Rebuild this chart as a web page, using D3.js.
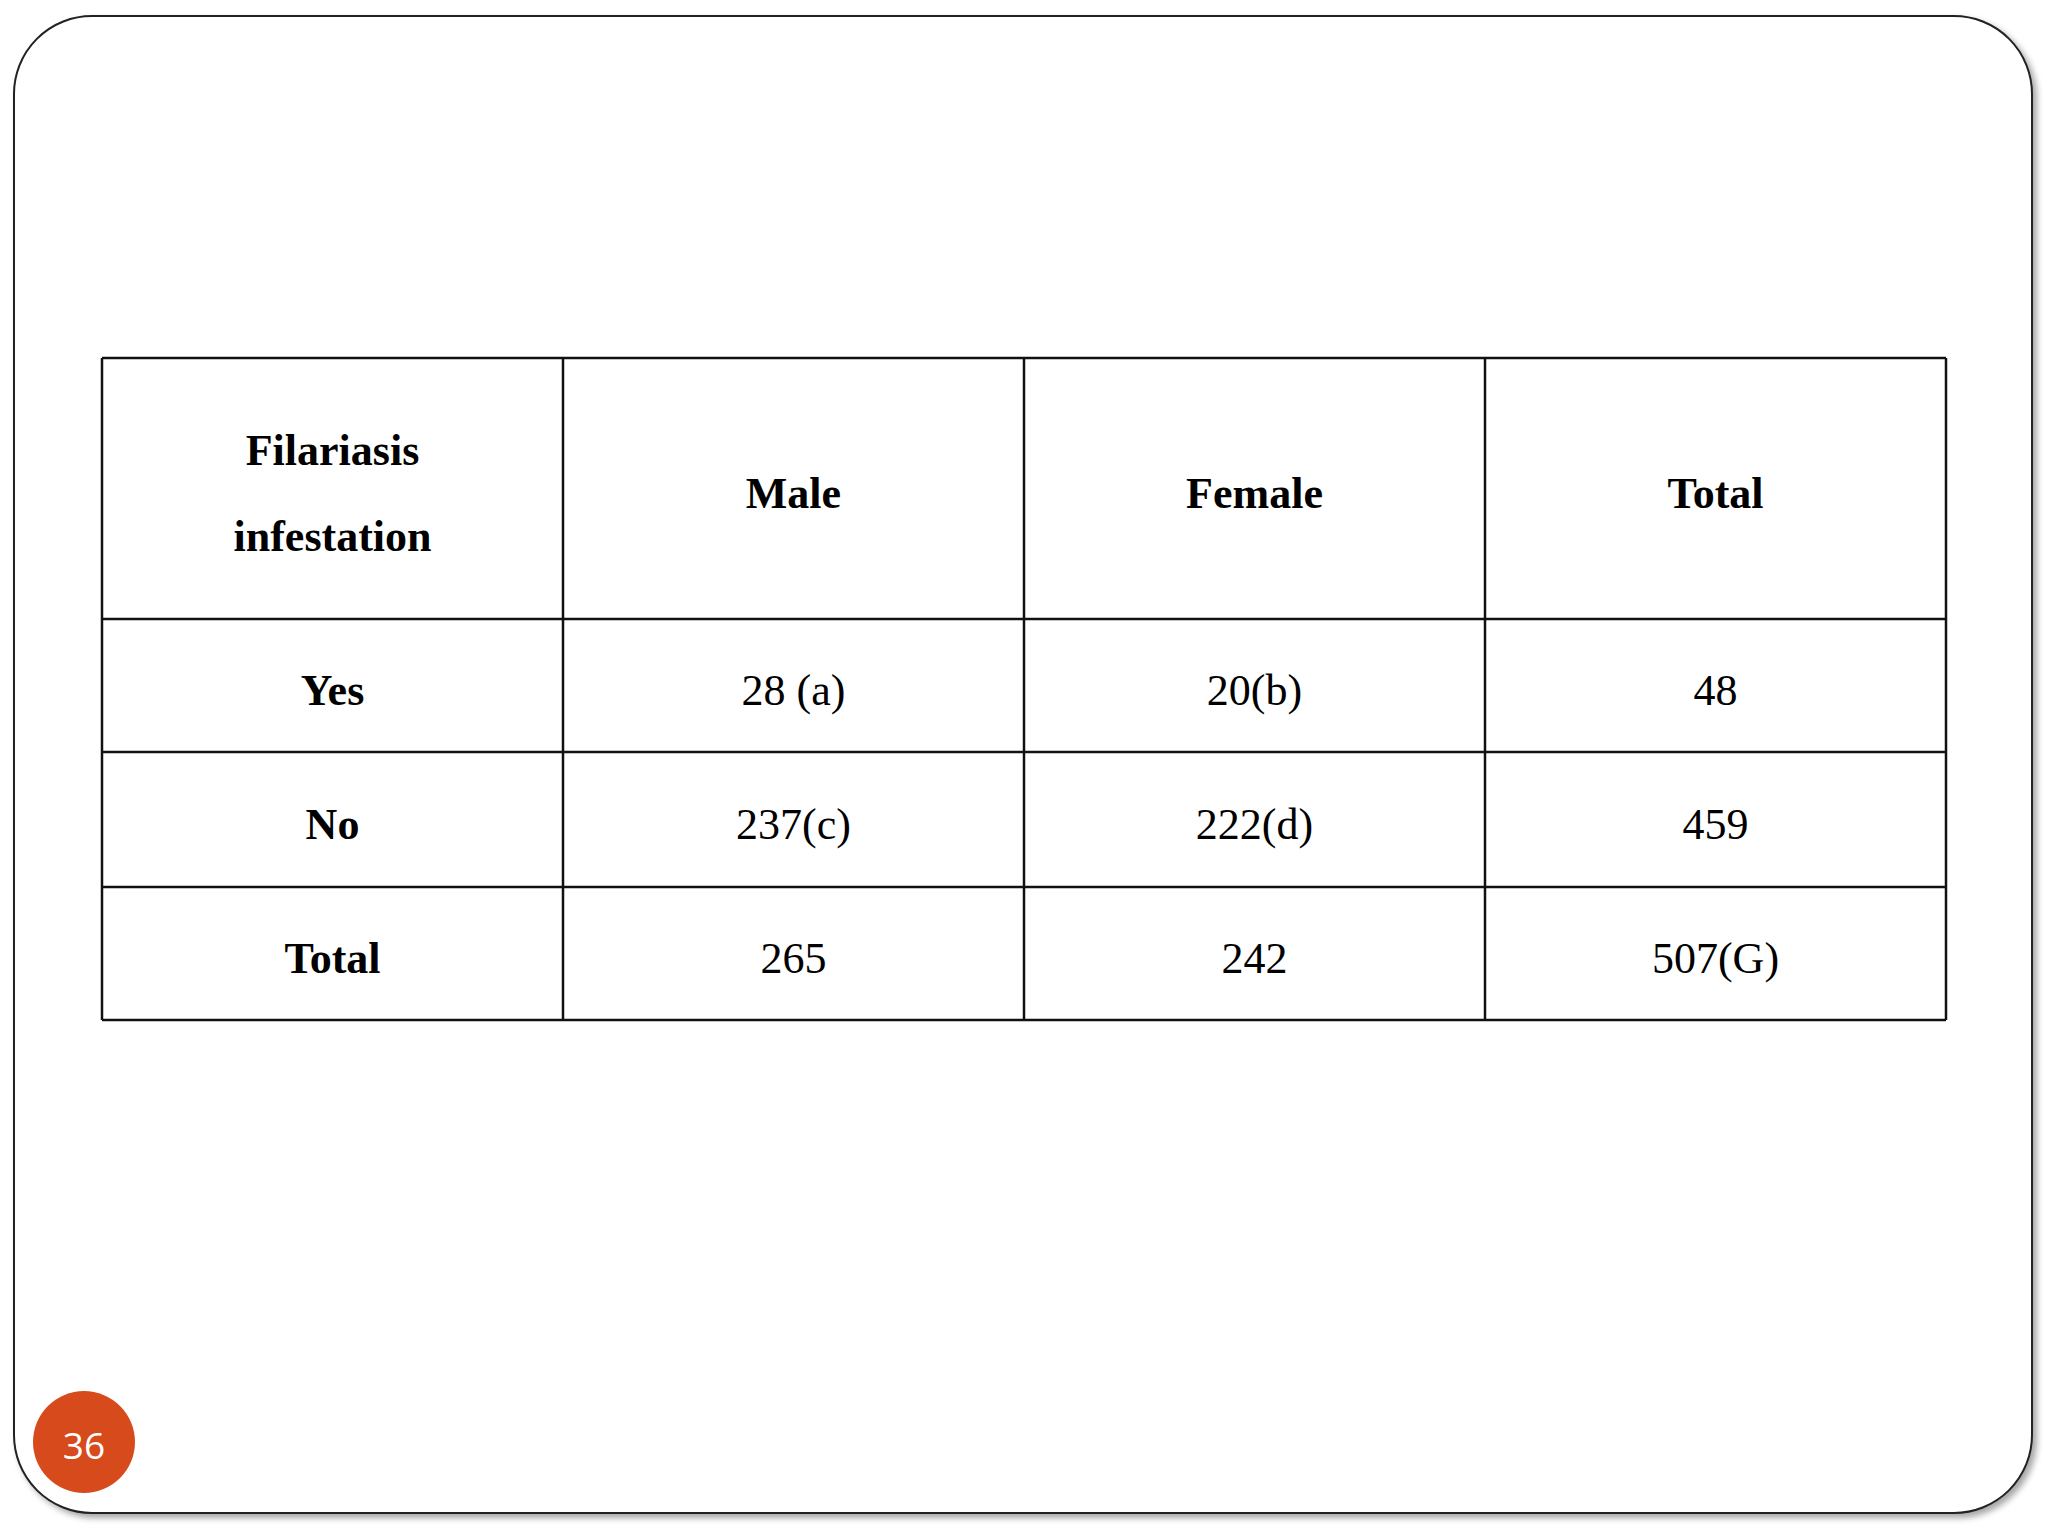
<!DOCTYPE html>
<html><head><meta charset="utf-8">
<script src="https://cdn.jsdelivr.net/npm/d3@7"></script>
<style>body{margin:0;background:#fff}</style></head>
<body><script>
const header = ["Filariasis\ninfestation","Male","Female","Total"];
const rowLabels = ["Yes","No","Total"];
const maleVals = ["28 (a)","237(c)","265"];
const femaleVals = ["20(b)","222(d)","242"];
const totalVals = ["48","459","507(G)"];
const pageNum = "36";

const W=2048,H=1536;
const svg=d3.select("body").append("svg").attr("width",W).attr("height",H);
const defs=svg.append("defs");
const f=defs.append("filter").attr("id","sh").attr("x","-5%").attr("y","-5%").attr("width","110%").attr("height","110%");
f.append("feDropShadow").attr("dx",4).attr("dy",4).attr("stdDeviation",3).attr("flood-color","#000").attr("flood-opacity",0.35);
svg.append("rect").attr("x",14).attr("y",16).attr("width",2018).attr("height",1497).attr("rx",78)
  .attr("fill","#fff").attr("stroke","#222").attr("stroke-width",2).attr("filter","url(#sh)");

const cols=[0,1,2,3];
const x=d3.scaleBand().domain(cols).range([102,1946]);
const rowEdges=[358,619,752,887,1020];
const g=svg.append("g");
[102,563,1024,1485,1946].forEach(v=>g.append("line").attr("x1",v).attr("x2",v).attr("y1",358).attr("y2",1020).attr("stroke","#111").attr("stroke-width",2.5));
rowEdges.forEach(v=>g.append("line").attr("x1",102).attr("x2",1946).attr("y1",v).attr("y2",v).attr("stroke","#111").attr("stroke-width",2.5));

const font="'Liberation Serif','Times New Roman',serif";
const dy=5;
header.forEach((h,i)=>{
  const lines=h.split("\n");
  const cy=(rowEdges[0]+rowEdges[1])/2+dy;
  lines.forEach((l,j)=>{
    g.append("text").attr("x",x(i)+x.bandwidth()/2).attr("y",cy+(j-(lines.length-1)/2)*86)
      .attr("text-anchor","middle").attr("dominant-baseline","central")
      .attr("font-family",font).attr("font-weight","bold").attr("font-size",44).text(l);
  });
});
const rows=rowLabels.map((r,i)=>[r,maleVals[i],femaleVals[i],totalVals[i]]);
rows.forEach((r,ri)=>{
  const cy=(rowEdges[ri+1]+rowEdges[ri+2])/2+dy;
  r.forEach((v,ci)=>{
    g.append("text").attr("x",x(ci)+x.bandwidth()/2).attr("y",cy)
      .attr("text-anchor","middle").attr("dominant-baseline","central")
      .attr("font-family",font).attr("font-weight",ci===0?"bold":"normal").attr("font-size",44).text(v);
  });
});
svg.append("circle").attr("cx",84).attr("cy",1442).attr("r",51).attr("fill","#d64a1c");
svg.append("text").attr("x",84).attr("y",1444).attr("text-anchor","middle").attr("dominant-baseline","central")
  .attr("fill","#fff").attr("font-family","'Open Sans',sans-serif").attr("font-size",37).text(pageNum);
</script></body></html>
